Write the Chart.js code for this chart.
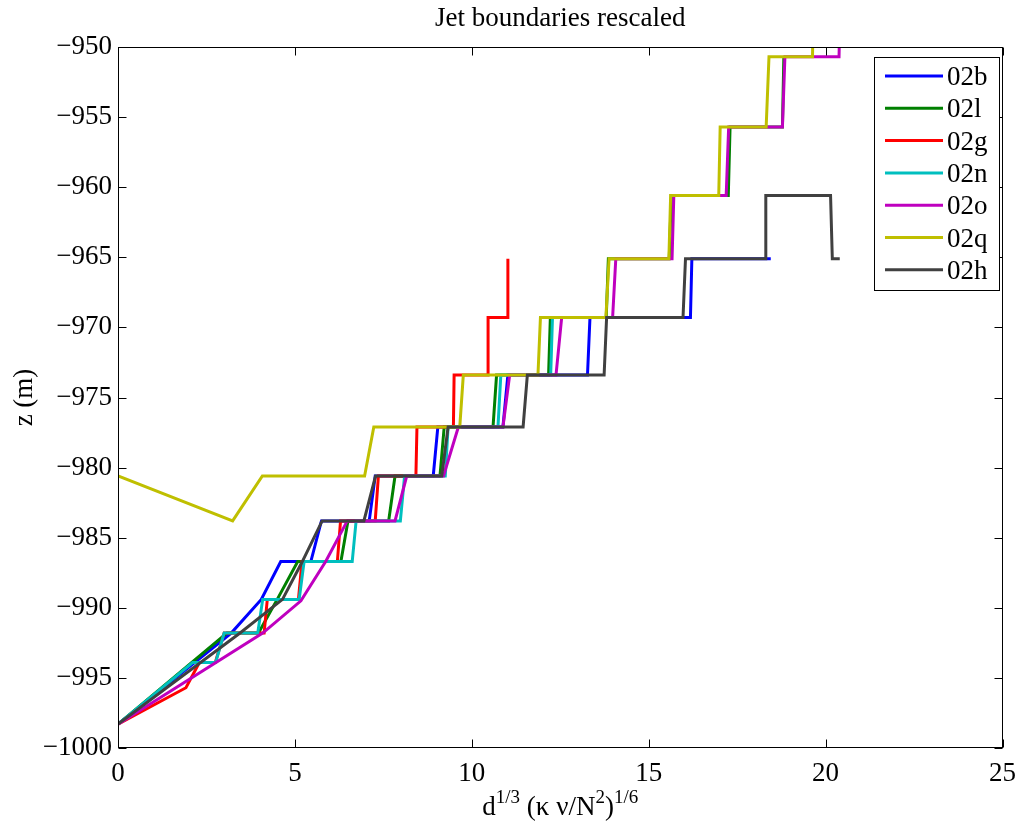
<!DOCTYPE html>
<html><head><meta charset="utf-8">
<script src="https://cdn.jsdelivr.net/npm/chart.js@4.4.1/dist/chart.umd.min.js"></script>
<style>html,body{margin:0;padding:0;background:#fff;}#wrap{width:1026px;height:823px;position:relative;}</style>
</head><body><div id="wrap"><canvas id="c" width="1026" height="823"></canvas></div>
<script>
const chartTitle = 'Jet boundaries rescaled';
const yTitle = 'z (m)';
const seriesNames = ['02b','02l','02g','02n','02o','02q','02h'];
const seriesColors = ['#0000ff','#008000','#ff0000','#00bfbf','#bf00bf','#bfbf00','#404040'];
const xTicks = [0,5,10,15,20,25];
const yTicks = [-1000,-995,-990,-985,-980,-975,-970,-965,-960,-955,-950];

const x02b = [0,3.2,4.05,4.6,5.45,5.75,7.1,7.27,8.91,9.04,10.88,11.02,13.27,13.34,16.18,16.22,18.45];
const y02b = [-998.3,-991.8,-989.4,-986.7,-986.7,-983.8,-983.8,-980.6,-980.6,-977.1,-977.1,-973.4,-973.4,-969.3,-969.3,-965.1,-965.1];

const x02l = [0,3.08,3.97,4.5,5.08,6.3,6.5,7.65,7.83,9.1,9.22,10.6,10.7,12.17,12.22,13.8,13.86,15.58,15.64,17.25,17.3,18.78,18.82];
const y02l = [-998.3,-991.8,-991.8,-989.4,-986.7,-986.7,-983.8,-983.8,-980.6,-980.6,-977.1,-977.1,-973.4,-973.4,-969.3,-969.3,-965.1,-965.1,-960.6,-960.6,-955.7,-955.7,-950.7];

const x02g = [0,1.92,2.3,2.75,3.0,4.13,4.22,5.1,5.2,6.2,6.29,7.27,7.36,8.42,8.45,9.48,9.5,10.46,10.46,11.02,11.02];
const y02g = [-998.3,-995.7,-993.9,-993.9,-991.8,-991.8,-989.4,-989.4,-986.7,-986.7,-983.8,-983.8,-980.6,-980.6,-977.1,-977.1,-973.4,-973.4,-969.3,-969.3,-965.1];

const x02n = [0,2.11,2.76,3.0,3.95,4.09,5.12,5.26,6.62,6.73,7.98,8.1,9.25,9.33,10.74,10.82,12.23,12.28,13.6];
const y02n = [-998.3,-993.9,-993.9,-991.8,-991.8,-989.4,-989.4,-986.7,-986.7,-983.8,-983.8,-980.6,-980.6,-977.1,-977.1,-973.4,-973.4,-969.3,-969.3];

const x02o = [0,4.09,5.17,5.87,6.48,7.83,8.16,9.2,9.62,10.88,11.07,12.38,12.54,13.98,14.07,15.66,15.71,17.19,17.26,18.78,18.85,20.38,20.42];
const y02o = [-998.3,-991.8,-989.5,-986.7,-983.8,-983.8,-980.6,-980.6,-977.1,-977.1,-973.4,-973.4,-969.3,-969.3,-965.1,-965.1,-960.6,-960.6,-955.7,-955.7,-950.7,-950.7,-945.5];

const x02q = [0,3.24,4.08,6.97,7.23,9.66,9.76,11.87,11.94,13.79,13.88,15.57,15.62,16.98,17.02,18.32,18.4,19.63,19.66];
const y02q = [-980.6,-983.8,-980.6,-980.6,-977.1,-977.1,-973.4,-973.4,-969.3,-969.3,-965.1,-965.1,-960.6,-960.6,-955.7,-955.7,-950.7,-950.7,-945.5];

const x02h = [0,3.45,4.65,5.21,5.77,6.95,7.28,9.15,9.33,11.45,11.57,13.74,13.81,15.97,16.04,18.29,18.31,20.14,20.19,20.4];
const y02h = [-998.3,-991.8,-989.4,-986.7,-983.8,-983.8,-980.6,-980.6,-977.1,-977.1,-973.4,-973.4,-969.3,-969.3,-965.1,-965.1,-960.6,-960.6,-965.1,-965.1];

const seriesX = [x02b,x02l,x02g,x02n,x02o,x02q,x02h];
const seriesY = [y02b,y02l,y02g,y02n,y02o,y02q,y02h];

const FONT = 'Liberation Serif, Times New Roman, serif';
Chart.defaults.font.family = FONT;
Chart.defaults.font.size = 27;
Chart.defaults.color = '#000';

const datasets = seriesNames.map((n,i)=>({
  label:n,
  order: seriesNames.length - i,
  data: seriesX[i].map((x,j)=>({x:x,y:seriesY[i][j]})),
  borderColor: seriesColors[i],
  backgroundColor: seriesColors[i],
  borderWidth: 3,
  showLine: true,
  pointRadius: 0,
  pointHoverRadius: 0,
  tension: 0,
  borderJoinStyle: 'miter',
  fill: false
}));

const decor = {
  id:'decor',
  afterDraw(chart){
    const ctx = chart.ctx, a = chart.chartArea;
    const xs = chart.scales.x, ys = chart.scales.y;
    ctx.save();
    ctx.strokeStyle = '#000'; ctx.lineWidth = 1;
    const L = Math.round(a.left)+0.5, R = Math.round(a.right)-0.5, T = Math.round(a.top)+0.5, B = Math.round(a.bottom)-0.5;
    ctx.strokeRect(L, T, R-L, B-T);
    ctx.beginPath();
    xTicks.forEach(v=>{
      const p = Math.round(xs.getPixelForValue(v))+0.5;
      ctx.moveTo(p,B); ctx.lineTo(p,B-8);
      ctx.moveTo(p,T); ctx.lineTo(p,T+8);
    });
    yTicks.forEach(v=>{
      const p = Math.round(ys.getPixelForValue(v))+0.5;
      ctx.moveTo(L,p); ctx.lineTo(L+8,p);
      ctx.moveTo(R,p); ctx.lineTo(R-8,p);
    });
    ctx.stroke();
    ctx.fillStyle = '#000';
    ctx.font = '27px ' + FONT;
    ctx.textAlign = 'center'; ctx.textBaseline = 'alphabetic';
    const cx = (a.left + a.right)/2;
    ctx.fillText(chartTitle, cx, 26);
    ctx.save();
    ctx.translate(32, (a.top+a.bottom)/2);
    ctx.rotate(-Math.PI/2);
    ctx.fillText(yTitle, 0, 0);
    ctx.restore();
    const parts = [
      {t:'d', s:false},{t:'1/3', s:true},{t:' (\u03ba \u03bd/N', s:false},{t:'2', s:true},{t:')', s:false},{t:'1/6', s:true}
    ];
    const fMain = '27px ' + FONT, fSup = '19px ' + FONT;
    let w = 0;
    parts.forEach(p=>{ ctx.font = p.s?fSup:fMain; p.w = ctx.measureText(p.t).width; w += p.w; });
    let x0 = cx - w/2; const base = 815;
    ctx.textAlign = 'left';
    parts.forEach(p=>{ ctx.font = p.s?fSup:fMain; ctx.fillText(p.t, x0, p.s?base-12:base); x0 += p.w; });
    const lx = 874.5, ly = 57.5, lw = 125, lh = 233;
    ctx.fillStyle = '#fff';
    ctx.fillRect(lx, ly, lw, lh);
    ctx.strokeStyle = '#000'; ctx.lineWidth = 1;
    ctx.strokeRect(lx, ly, lw, lh);
    ctx.font = fMain; ctx.textAlign='left'; ctx.textBaseline='alphabetic';
    chart.data.datasets.forEach((d,i)=>{
      const yy = 76 + i*32.3;
      ctx.strokeStyle = d.borderColor; ctx.lineWidth = 3;
      ctx.beginPath(); ctx.moveTo(885, yy); ctx.lineTo(943, yy); ctx.stroke();
      ctx.fillStyle = '#000';
      ctx.fillText(d.label, 947, yy + 9);
    });
    ctx.restore();
  }
};

new Chart(document.getElementById('c'), {
  type:'scatter',
  data:{datasets:datasets},
  options:{
    responsive:false,
    animation:false,
    events:[],
    layout:{padding:{top:47,right:18,bottom:0,left:0}},
    plugins:{legend:{display:false}, title:{display:false}, tooltip:{enabled:false}},
    scales:{
      x:{type:'linear', min:0, max:25,
        afterBuildTicks:s=>{ s.ticks = xTicks.map(v=>({value:v})); },
        afterFit:s=>{ s.height = 75; },
        grid:{display:false, drawTicks:false}, border:{display:false},
        ticks:{padding:10, maxRotation:0, autoSkip:false, font:{size:27}}
      },
      y:{type:'linear', min:-1000, max:-950,
        afterBuildTicks:s=>{ s.ticks = yTicks.map(v=>({value:v})); },
        afterFit:s=>{ s.width = 118; },
        grid:{display:false, drawTicks:false}, border:{display:false},
        ticks:{padding:6, autoSkip:false, font:{size:27}, callback:v=>(v<0?'\u2212':'')+Math.abs(v)}
      }
    }
  },
  plugins:[decor]
});
</script></body></html>
